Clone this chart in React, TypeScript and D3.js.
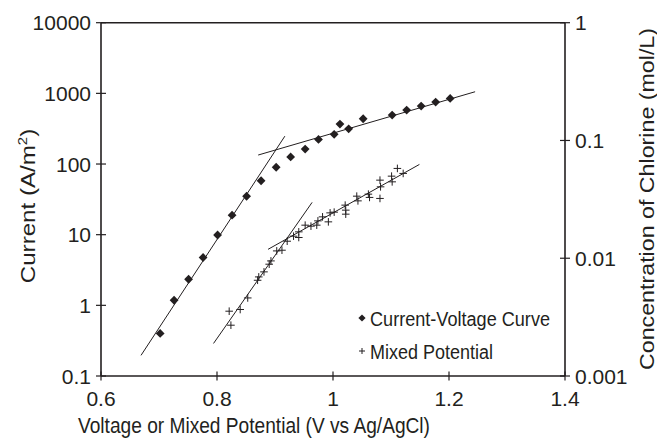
import React from "react";
import * as d3 from "d3";

// Current-voltage curve (left axis, A/m^2)
const ivVoltage = [0.702, 0.726, 0.751, 0.776, 0.801, 0.826, 0.851, 0.876, 0.902, 0.927, 0.952, 0.975, 1.002, 1.012, 1.027, 1.052, 1.102, 1.127, 1.152, 1.177, 1.202];
const ivCurrent = [0.40, 1.18, 2.34, 4.75, 9.9, 18.9, 35, 58, 90, 126, 163, 223, 263, 367, 315, 437, 493, 580, 661, 753, 849];

// Mixed potential (right axis, mol/L)
const mpVoltage = [0.821, 0.824, 0.840, 0.853, 0.870, 0.872, 0.881, 0.890, 0.893, 0.903, 0.912, 0.921, 0.932, 0.941, 0.941, 0.952, 0.962, 0.972, 0.974, 0.982, 0.992, 0.995, 1.002, 1.021, 1.022, 1.022, 1.041, 1.043, 1.061, 1.063, 1.081, 1.082, 1.081, 1.101, 1.102, 1.111, 1.121];
const mpConc = [0.00355, 0.0027, 0.00367, 0.0046, 0.0065, 0.00694, 0.00766, 0.0089, 0.00949, 0.01154, 0.0117, 0.01395, 0.01539, 0.01675, 0.015, 0.01909, 0.01872, 0.01909, 0.02076, 0.02246, 0.02037, 0.02428, 0.02462, 0.02824, 0.02561, 0.02367, 0.03366, 0.0307, 0.03501, 0.03283, 0.04603, 0.04039, 0.03219, 0.04977, 0.04453, 0.05788, 0.0525];

// Fitted straight lines
const ivSteepV = [0.669, 0.917];
const ivSteepI = [0.196, 248];
const ivShallowV = [0.871, 1.245];
const ivShallowI = [134, 1054];
const mpSteepV = [0.794, 0.964];
const mpSteepC = [0.00189, 0.0298];
const mpShallowV = [0.888, 1.149];
const mpShallowC = [0.0119, 0.0626];

const xTicks = [0.6, 0.8, 1, 1.2, 1.4];
const xTickLabels = ["0.6", "0.8", "1", "1.2", "1.4"];
const yLeftTicks = [0.1, 1, 10, 100, 1000, 10000];
const yLeftLabels = ["0.1", "1", "10", "100", "1000", "10000"];
const yRightTicks = [0.001, 0.01, 0.1, 1];
const yRightLabels = ["0.001", "0.01", "0.1", "1"];

const legendLabels = ["Current-Voltage Curve", "Mixed Potential"];

const INK = "#231f20";
const FONT = "'Liberation Sans', Arial, Helvetica, sans-serif";

export default function App() {
  const W = 657, H = 440;
  const left = 101, right = 565, top = 22.7, bottom = 376;
  const x = d3.scaleLinear().domain([0.6, 1.4]).range([left, right]);
  const yL = d3.scaleLog().domain([0.1, 10000]).range([bottom, top]);
  const yR = d3.scaleLog().domain([0.001, 1]).range([bottom, top]);

  const lineL = d3.line<[number, number]>().x(d => x(d[0])).y(d => yL(d[1]));
  const lineR = d3.line<[number, number]>().x(d => x(d[0])).y(d => yR(d[1]));
  const zip = (a: number[], b: number[]) => a.map((v, i) => [v, b[i]] as [number, number]);

  const dia = (cx: number, cy: number, s = 4.4) => `M${cx},${cy - s}L${cx + s},${cy}L${cx},${cy + s}L${cx - s},${cy}Z`;
  const plus = (cx: number, cy: number, s = 3.8) => `M${cx - s},${cy}H${cx + s}M${cx},${cy - s}V${cy + s}`;

  return (
    <svg width={W} height={H} style={{ position: "absolute", left: 0, top: 0, background: "#fff" }} fontFamily={FONT}>
      {/* frame */}
      <line x1={left} x2={right} y1={top} y2={top} stroke={INK} strokeWidth={1.6} />
      <line x1={left} x2={right} y1={bottom} y2={bottom} stroke={INK} strokeWidth={1.6} />
      <line x1={left} x2={left} y1={top} y2={bottom} stroke={INK} strokeWidth={1.6} />
      <line x1={right} x2={right} y1={top} y2={bottom} stroke={INK} strokeWidth={1.6} />

      {/* x ticks */}
      {xTicks.map((t, i) => (
        <g key={"x" + i}>
          <line x1={x(t)} x2={x(t)} y1={bottom - 4.5} y2={bottom + 4.5} stroke={INK} strokeWidth={1.2} />
          <text x={x(t)} y={405.5} textAnchor="middle" fontSize={21} fill={INK}>{xTickLabels[i]}</text>
        </g>
      ))}
      {/* left ticks */}
      {yLeftTicks.map((t, i) => (
        <g key={"yl" + i}>
          <line x1={left - 5} x2={left + 5} y1={yL(t)} y2={yL(t)} stroke={INK} strokeWidth={1.2} />
          <text x={91} y={yL(t)} dy="0.36em" textAnchor="end" fontSize={21} fill={INK}>{yLeftLabels[i]}</text>
        </g>
      ))}
      {/* right ticks */}
      {yRightTicks.map((t, i) => (
        <g key={"yr" + i}>
          <line x1={right - 5} x2={right + 5} y1={yR(t)} y2={yR(t)} stroke={INK} strokeWidth={1.2} />
          <text x={575} y={yR(t)} dy="0.36em" textAnchor="start" fontSize={21} fill={INK}>{yRightLabels[i]}</text>
        </g>
      ))}

      {/* axis titles */}
      <text x={254} y={433} textAnchor="middle" fontSize={22} fill={INK} textLength={352} lengthAdjust="spacingAndGlyphs">
        Voltage or Mixed Potential (V vs Ag/AgCl)
      </text>
      <text transform="translate(35,206) rotate(-90) scale(1.15,1)" textAnchor="middle" fontSize={21} fill={INK}>
        Current (A/m<tspan fontSize={13} dy={-8}>2</tspan><tspan dy={8}>)</tspan>
      </text>
      <text transform="translate(654,199) rotate(-90)" textAnchor="middle" fontSize={21} fill={INK} textLength={342} lengthAdjust="spacingAndGlyphs">
        Concentration of Chlorine (mol/L)
      </text>

      {/* fit lines */}
      <path d={lineL(zip(ivSteepV, ivSteepI)) || ""} fill="none" stroke={INK} strokeWidth={1} />
      <path d={lineL(zip(ivShallowV, ivShallowI)) || ""} fill="none" stroke={INK} strokeWidth={1} />
      <path d={lineR(zip(mpSteepV, mpSteepC)) || ""} fill="none" stroke={INK} strokeWidth={1} />
      <path d={lineR(zip(mpShallowV, mpShallowC)) || ""} fill="none" stroke={INK} strokeWidth={1} />

      {/* current-voltage diamonds */}
      {ivVoltage.map((v, i) => (
        <path key={"d" + i} d={dia(x(v), yL(ivCurrent[i]))} fill={INK} />
      ))}
      {/* mixed potential pluses */}
      {mpVoltage.map((v, i) => (
        <path key={"p" + i} d={plus(x(v), yR(mpConc[i]))} stroke={INK} strokeWidth={1} fill="none" />
      ))}

      {/* legend */}
      <path d={dia(362, 318, 3.6)} fill={INK} />
      <text x={370} y={325.5} fontSize={20} fill={INK} textLength={180} lengthAdjust="spacingAndGlyphs">{legendLabels[0]}</text>
      <path d={plus(362, 351, 3)} stroke={INK} strokeWidth={1} fill="none" />
      <text x={370} y={358.5} fontSize={20} fill={INK} textLength={123} lengthAdjust="spacingAndGlyphs">{legendLabels[1]}</text>
    </svg>
  );
}
